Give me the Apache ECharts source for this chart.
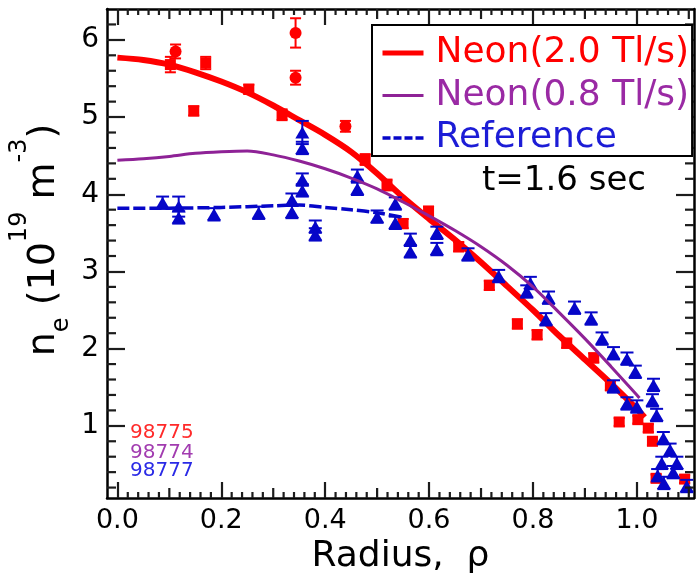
<!DOCTYPE html>
<html>
<head>
<meta charset="utf-8">
<title>Electron density profiles</title>
<script src="https://cdn.jsdelivr.net/npm/echarts@6/dist/echarts.min.js"></script>
<style>
  html, body { margin: 0; padding: 0; background: #fff; }
  #chart { width: 696px; height: 587px; }
</style>
</head>
<body>
<div id="chart"></div>
<script>
// ---- data: normalized radius rho, density n_e in 1e19 m^-3 ----
// shot 98775, Neon 2.0 Tl/s (circles)
const rho98775a = [0.112, 0.343, 0.343, 0.439];
const ne98775a  = [5.85, 6.09, 5.51, 4.88];
const err98775a = [0.09, 0.19, 0.09, 0.07];
// shot 98775 (squares)
const rho98775b = [0.102, 0.170, 0.147, 0.253, 0.317, 0.477, 0.519, 0.550, 0.599, 0.657, 0.716,
                   0.770, 0.808, 0.865, 0.917, 0.949, 0.966, 1.002, 1.022, 1.030, 1.037, 1.092];
const ne98775b  = [5.68, 5.70, 5.08, 5.36, 5.03, 4.45, 4.12, 3.62, 3.78, 3.32, 2.82,
                   2.32, 2.18, 2.07, 1.88, 1.52, 1.05, 1.08, 0.97, 0.80, 0.32, 0.31];
const err98775b = [0.10, 0.08, 0.06, 0.06, 0.07, 0.07, 0.07, 0.06, 0.06, 0.06, 0.06,
                   0.06, 0.06, 0.06, 0.06, 0.06, 0.05, 0.05, 0.05, 0.05, 0.05, 0.05];
// shot 98777, reference (triangles)
const rho98777 = [0.087, 0.118, 0.118, 0.186, 0.272, 0.336, 0.336, 0.356, 0.356, 0.356, 0.356, 0.381,
                  0.381, 0.462, 0.462, 0.500, 0.535, 0.535, 0.564, 0.564, 0.615, 0.615, 0.675, 0.734,
                  0.788, 0.795, 0.830, 0.825, 0.880, 0.912, 0.933, 0.955, 0.955, 0.981, 0.981, 0.997,
                  1.000, 1.032, 1.030, 1.038, 1.051, 1.064, 1.048, 1.077, 1.040, 1.070, 1.052, 1.096];
const ne98777  = [3.89, 3.84, 3.70, 3.74, 3.76, 3.93, 3.77, 4.80, 4.60, 4.19, 4.05, 3.58,
                  3.48, 4.24, 4.07, 3.71, 3.88, 3.63, 3.41, 3.26, 3.50, 3.29, 3.22, 2.94,
                  2.74, 2.85, 2.66, 2.38, 2.53, 2.39, 2.13, 1.94, 1.51, 1.87, 1.29, 1.70,
                  1.25, 1.53, 1.33, 1.14, 0.84, 0.69, 0.52, 0.52, 0.36, 0.40, 0.26, 0.22];
const err98777 = [0.08, 0.13, 0.08, 0.08, 0.08, 0.08, 0.08, 0.15, 0.08, 0.08, 0.08, 0.08,
                  0.08, 0.08, 0.08, 0.08, 0.08, 0.08, 0.08, 0.08, 0.08, 0.08, 0.08, 0.08,
                  0.08, 0.08, 0.08, 0.08, 0.08, 0.08, 0.08, 0.08, 0.08, 0.08, 0.08, 0.08,
                  0.08, 0.08, 0.08, 0.08, 0.08, 0.08, 0.08, 0.08, 0.08, 0.08, 0.08, 0.08];

// fitted profiles
const fitRho20 = [0, 0.05, 0.1, 0.15, 0.2, 0.25, 0.3, 0.35, 0.4, 0.45, 0.5, 0.55, 0.6, 0.65, 0.7,
                  0.75, 0.8, 0.85, 0.9, 0.95, 1.0, 1.015];
const fitNe20  = [5.77, 5.74, 5.68, 5.58, 5.46, 5.32, 5.15, 4.96, 4.77, 4.55, 4.27, 3.96, 3.68, 3.41, 3.12,
                  2.81, 2.50, 2.17, 1.86, 1.55, 1.22, 1.11];
const fitRho08 = [0, 0.05, 0.1, 0.15, 0.2, 0.25, 0.3, 0.35, 0.4, 0.45, 0.5, 0.55, 0.6, 0.65, 0.7,
                  0.75, 0.8, 0.85, 0.9, 0.95, 1.0, 1.005];
const fitNe08  = [4.44, 4.46, 4.49, 4.53, 4.55, 4.56, 4.51, 4.43, 4.33, 4.21, 4.07, 3.90, 3.72, 3.53, 3.32,
                  3.08, 2.80, 2.47, 2.13, 1.77, 1.40, 1.36];
const fitRhoRef = [0, 0.1, 0.2, 0.3, 0.35, 0.4, 0.45, 0.5, 0.55];
const fitNeRef  = [3.82, 3.82, 3.83, 3.85, 3.86, 3.83, 3.80, 3.76, 3.70];

// tick positions and labels
const xMajorTicks = [0, 0.2, 0.4, 0.6, 0.8, 1.0];
const xTickLabels = ['0.0', '0.2', '0.4', '0.6', '0.8', '1.0'];
const xMidTicks   = [0.1, 0.3, 0.5, 0.7, 0.9, 1.1];
const xMinorTicks = [0.02, 0.04, 0.06, 0.08, 0.12, 0.14, 0.16, 0.18, 0.22, 0.24, 0.26, 0.28,
                     0.32, 0.34, 0.36, 0.38, 0.42, 0.44, 0.46, 0.48, 0.52, 0.54, 0.56, 0.58,
                     0.62, 0.64, 0.66, 0.68, 0.72, 0.74, 0.76, 0.78, 0.82, 0.84, 0.86, 0.88,
                     0.92, 0.94, 0.96, 0.98, 1.02, 1.04, 1.06, 1.08];
const yMajorTicks = [1, 2, 3, 4, 5, 6];
const yTickLabels = ['1', '2', '3', '4', '5', '6'];
const yMinorTicks = [0.2, 0.4, 0.6, 0.8, 1.2, 1.4, 1.6, 1.8, 2.2, 2.4, 2.6, 2.8, 3.2, 3.4, 3.6, 3.8,
                     4.2, 4.4, 4.6, 4.8, 5.2, 5.4, 5.6, 5.8, 6.2];

const seriesNames = ['Neon(2.0 Tl/s)', 'Neon(0.8 Tl/s)', 'Reference'];
const shotLabels  = ['98775', '98774', '98777'];

// ---- styling ----
const FONT = "'DejaVu Sans', sans-serif";
const RED = '#ff0000', PURPLE = '#8e2296', BLUE = '#0606c8';
const INK = '#1c1c1c';
const X_MIN = -0.02, X_MAX = 1.11, Y_MIN = 0.065, Y_MAX = 6.4;
const TICK_W = 2.2;

const zip = (a, b) => a.map((v, i) => [v, b[i]]);

// frame axes: lines on all four sides, major ticks drawn inward by the axes themselves
function frameAxis(pos, isX, majorTicks, labels) {
  const ax = {
    type: 'value', position: pos,
    min: isX ? X_MIN : Y_MIN, max: isX ? X_MAX : Y_MAX,
    axisLine: { show: true, onZero: false, lineStyle: { color: '#000', width: 2.5 } },
    axisTick: {
      show: true, inside: true, length: isX ? 16 : 18, customValues: majorTicks,
      lineStyle: { color: INK, width: TICK_W }
    },
    splitLine: { show: false },
    axisLabel: { show: false }
  };
  if (labels) {
    ax.axisLabel = {
      show: true, margin: isX ? 9 : 8, fontSize: isX ? 27 : 28, fontFamily: FONT, color: '#000',
      customValues: majorTicks,
      formatter: v => {
        const i = majorTicks.findIndex(t => Math.abs(t - v) < 1e-9);
        return i >= 0 ? labels[i] : '';
      }
    };
  }
  return ax;
}

// shorter inward frame ticks: thin bar symbols anchored on the frame edges
function tickBars(points, size, offset) {
  return {
    type: 'scatter', xAxisIndex: 0, yAxisIndex: 0, z: 50, clip: false,
    symbol: 'rect', symbolSize: size, symbolOffset: offset,
    itemStyle: { color: INK, opacity: 1 },
    data: points
  };
}
function xTicks(values, len) {
  return [
    tickBars(values.map(v => [v, Y_MIN]), [TICK_W, len], [0, -len / 2]),
    tickBars(values.map(v => [v, Y_MAX]), [TICK_W, len], [0, len / 2])
  ];
}
function yTicks(values, len) {
  return [
    tickBars(values.map(v => [X_MIN, v]), [len, TICK_W], [len / 2, 0]),
    tickBars(values.map(v => [X_MAX, v]), [len, TICK_W], [-len / 2, 0])
  ];
}

// error bars drawn through the axes' own coordinate mapping
function errorBars(rho, ne, err, color, cap, z) {
  return {
    type: 'custom', xAxisIndex: 0, yAxisIndex: 0, z: z, silent: true,
    data: rho.map((r, i) => [r, ne[i] - err[i], ne[i] + err[i]]),
    encode: { x: 0, y: [1, 2] },
    renderItem: function (params, api) {
      const lo = api.coord([api.value(0), api.value(1)]);
      const hi = api.coord([api.value(0), api.value(2)]);
      const h = cap / 2;
      const st = { stroke: color, lineWidth: 2 };
      return {
        type: 'group', children: [
          { type: 'line', shape: { x1: lo[0], y1: lo[1], x2: hi[0], y2: hi[1] }, style: st },
          { type: 'line', shape: { x1: lo[0] - h, y1: lo[1], x2: lo[0] + h, y2: lo[1] }, style: st },
          { type: 'line', shape: { x1: hi[0] - h, y1: hi[1], x2: hi[0] + h, y2: hi[1] }, style: st }
        ]
      };
    }
  };
}

const chart = echarts.init(document.getElementById('chart'), null, { renderer: 'canvas' });

const bottomAxis = frameAxis('bottom', true, xMajorTicks, xTickLabels);
bottomAxis.name = 'Radius,  ρ';
bottomAxis.nameLocation = 'middle';
bottomAxis.nameGap = 36;
bottomAxis.nameTextStyle = { fontSize: 36, fontFamily: FONT, color: '#000' };

const option = {
  animation: false,
  backgroundColor: '#fff',
  grid: { left: 107, right: 2, top: 9, bottom: 89 },
  xAxis: [
    bottomAxis,
    frameAxis('top', true, xMajorTicks, null)
  ],
  yAxis: [
    frameAxis('left', false, yMajorTicks, yTickLabels),
    frameAxis('right', false, yMajorTicks, null)
  ],
  legend: {
    show: true, orient: 'vertical', left: 372, top: 25,
    padding: [10, 3, 0, 8], itemGap: 6.5, itemWidth: 41, itemHeight: 14,
    backgroundColor: '#fff', borderColor: '#000', borderWidth: 2, borderRadius: 0,
    selectedMode: false, z: 60,
    itemStyle: { opacity: 0 },
    textStyle: { fontSize: 36, fontFamily: FONT, lineHeight: 34, padding: [0, 0, 0, 7] },
    data: [
      { name: seriesNames[0], textStyle: { color: RED }, lineStyle: { width: 5 } },
      { name: seriesNames[1], textStyle: { color: '#9a2aa4' }, lineStyle: { width: 3 } },
      { name: seriesNames[2], textStyle: { color: '#1c1cd6' }, lineStyle: { width: 3.5, type: [8, 3] } }
    ]
  },
  series: [
    ...xTicks(xMidTicks, 10),
    ...xTicks(xMinorTicks, 6),
    ...yTicks(yMinorTicks, 9),
    errorBars(rho98775b, ne98775b, err98775b, RED, 11, 3),
    errorBars(rho98775a, ne98775a, err98775a, RED, 11, 3),
    {
      type: 'scatter', name: 'shot98775b', xAxisIndex: 0, yAxisIndex: 0, z: 4, silent: true,
      symbol: 'rect', symbolSize: 11, itemStyle: { color: RED, opacity: 1 },
      data: zip(rho98775b, ne98775b)
    },
    {
      type: 'scatter', name: 'shot98775a', xAxisIndex: 0, yAxisIndex: 0, z: 4, silent: true,
      symbol: 'circle', symbolSize: 12, itemStyle: { color: RED, opacity: 1 },
      data: zip(rho98775a, ne98775a)
    },
    {
      type: 'line', name: seriesNames[0], xAxisIndex: 0, yAxisIndex: 0, z: 5, silent: true,
      symbol: 'none', smooth: 0.3, color: RED,
      lineStyle: { color: RED, width: 6 },
      data: zip(fitRho20, fitNe20)
    },
    errorBars(rho98777, ne98777, err98777, BLUE, 13, 6),
    {
      type: 'scatter', name: 'shot98777', xAxisIndex: 0, yAxisIndex: 0, z: 7, silent: true,
      symbol: 'triangle', symbolSize: [14, 12], itemStyle: { color: BLUE, opacity: 1 },
      data: zip(rho98777, ne98777)
    },
    {
      type: 'line', name: seriesNames[2], xAxisIndex: 0, yAxisIndex: 0, z: 8, silent: true,
      symbol: 'none', smooth: 0.3, color: BLUE,
      lineStyle: { color: BLUE, width: 3.5, type: [12, 4] },
      data: zip(fitRhoRef, fitNeRef)
    },
    {
      type: 'line', name: seriesNames[1], xAxisIndex: 0, yAxisIndex: 0, z: 9, silent: true,
      symbol: 'none', smooth: 0.3, color: PURPLE,
      lineStyle: { color: PURPLE, width: 3 },
      data: zip(fitRho08, fitNe08)
    }
  ],
  graphic: [
    {
      type: 'text', x: 44, y: 240, rotation: Math.PI / 2, z: 100, silent: true,
      style: {
        text: 'n{e|e} (10{s|19} m{s|-3})',
        fontSize: 38, fontFamily: FONT, fill: '#000',
        align: 'center', verticalAlign: 'middle',
        rich: {
          e: { fontSize: 24, fontFamily: FONT, fill: '#000', padding: [35, 0, 0, 0] },
          s: { fontSize: 24, fontFamily: FONT, fill: '#000', padding: [0, 0, 48, 0] }
        }
      }
    },
    {
      type: 'text', x: 482, y: 181, z: 100, silent: true,
      style: { text: 't=1.6 sec', fontSize: 34, fontFamily: FONT, fill: '#000', verticalAlign: 'middle' }
    },
    {
      type: 'text', x: 130, y: 433, z: 100, silent: true,
      style: { text: shotLabels[0], fontSize: 20, fontFamily: FONT, fill: '#ff2a2a', verticalAlign: 'middle' }
    },
    {
      type: 'text', x: 130, y: 453, z: 100, silent: true,
      style: { text: shotLabels[1], fontSize: 20, fontFamily: FONT, fill: '#a23cb0', verticalAlign: 'middle' }
    },
    {
      type: 'text', x: 130, y: 471, z: 100, silent: true,
      style: { text: shotLabels[2], fontSize: 20, fontFamily: FONT, fill: '#2a2ae6', verticalAlign: 'middle' }
    }
  ]
};

chart.setOption(option);
</script>
</body>
</html>
